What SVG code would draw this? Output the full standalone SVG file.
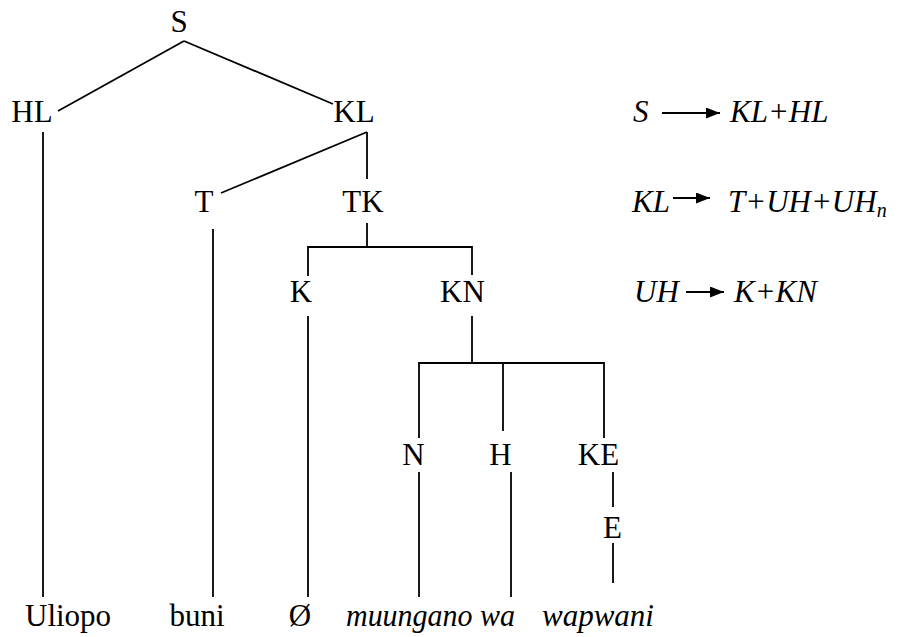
<svg xmlns="http://www.w3.org/2000/svg" width="898" height="637" viewBox="0 0 898 637">
<defs>
<marker id="ah" markerUnits="userSpaceOnUse" markerWidth="15" markerHeight="12" refX="14" refY="5.5" orient="auto">
<path d="M0,0 L14,5.5 L0,11 z" fill="#000"/>
</marker>
</defs>
<rect width="898" height="637" fill="#fff"/>
<g id="connectors" stroke="#000" stroke-width="1.8" fill="none">
<path d="M184 41 L58 111"/>
<path d="M184 41 L333 104"/>
<path d="M43 132 V597"/>
<path d="M367 132 L221 193"/>
<path d="M367 132 V179"/>
<path d="M213 229 V597"/>
<path d="M367 223 V247"/>
<path d="M308 276 V247 H472 V275"/>
<path d="M308 316 V597"/>
<path d="M472 316 V363"/>
<path d="M419 438 V363 H604 V438"/>
<path d="M503 363 V431"/>
<path d="M419 472 V597"/>
<path d="M511 472 V597"/>
<path d="M613 472 V507"/>
<path d="M613 543 V583"/>
</g>
<g font-family="Liberation Serif, Times New Roman, serif" font-size="31" fill="#000">
<g text-anchor="middle">
<g id="node-S"><text font-family="Liberation Serif, serif" x="179" y="32">S</text></g>
<g id="node-HL"><text font-family="Liberation Serif, serif" x="32" y="122">HL</text></g>
<g id="node-KL"><text font-family="Liberation Serif, serif" x="354" y="122">KL</text></g>
<g id="node-T"><text font-family="Liberation Serif, serif" x="204" y="212">T</text></g>
<g id="node-TK"><text font-family="Liberation Serif, serif" x="363" y="212">TK</text></g>
<g id="node-K"><text font-family="Liberation Serif, serif" x="301" y="302">K</text></g>
<g id="node-KN"><text font-family="Liberation Serif, serif" x="462.5" y="302">KN</text></g>
<g id="node-N"><text font-family="Liberation Serif, serif" x="413.5" y="465">N</text></g>
<g id="node-H"><text font-family="Liberation Serif, serif" x="500.5" y="465">H</text></g>
<g id="node-KE"><text font-family="Liberation Serif, serif" x="598.5" y="465">KE</text></g>
<g id="node-E"><text font-family="Liberation Serif, serif" x="612.5" y="538">E</text></g>
<g id="node-buni"><text font-family="Liberation Serif, serif" x="197" y="626">buni</text></g>
<g id="node-null"><text font-family="Liberation Serif, serif" x="300" y="626">Ø</text></g>
</g>
<g id="node-Uliopo"><text font-family="Liberation Serif, serif" x="25" y="626">Uliopo</text></g>
<g font-style="italic">
<g id="node-muungano"><text font-family="Liberation Serif, serif" x="346" y="626" textLength="169" lengthAdjust="spacingAndGlyphs">muungano wa</text></g>
<g id="node-wapwani"><text font-family="Liberation Serif, serif" x="542" y="626">wapwani</text></g>
<g id="rules">
<text font-family="Liberation Serif, serif" x="633" y="122">S</text>
<text font-family="Liberation Serif, serif" x="730" y="122">KL+HL</text>
<text font-family="Liberation Serif, serif" x="632" y="212">KL</text>
<text font-family="Liberation Serif, serif" x="728" y="212">T+UH+UH<tspan font-size="20" dy="5">n</tspan></text>
<text font-family="Liberation Serif, serif" x="634" y="302">UH</text>
<text font-family="Liberation Serif, serif" x="734" y="302">K+KN</text>
</g>
</g>
</g>
<g id="rule-arrows" stroke="#000" stroke-width="2.2" fill="none">
<line x1="662" y1="113" x2="720" y2="113" marker-end="url(#ah)"/>
<line x1="673" y1="198" x2="710" y2="198" marker-end="url(#ah)"/>
<line x1="686" y1="292" x2="724" y2="292" marker-end="url(#ah)"/>
</g>
</svg>
